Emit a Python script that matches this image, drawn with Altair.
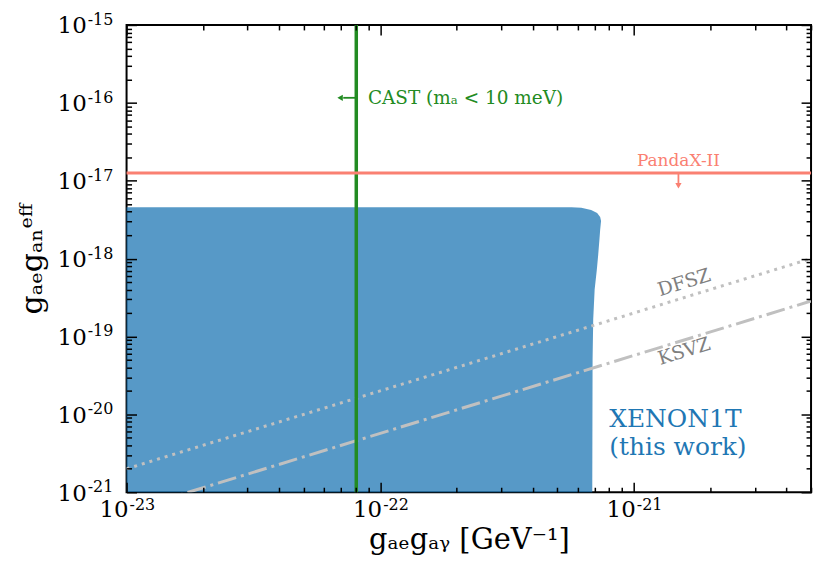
import altair as alt
import pandas as pd

FONT = "DejaVu Serif"

# ---- axis ranges ----
x_domain = [1e-23, 5e-21]
y_domain = [1e-21, 1e-15]
W, H = 687, 469

# ---- XENON1T excluded region (boundary) ----
xenon_gan = [4.57e-18, 4.48e-18, 4.22e-18, 3.86e-18, 3.43e-18, 3.05e-18, 2.34e-18,
             1.75e-18, 1.12e-18, 7.21e-19, 4.0e-19, 1.66e-19, 5.09e-20, 1e-21]
xenon_gay = [5.68e-22, 6.21e-22, 6.79e-22, 7.17e-22, 7.37e-22, 7.43e-22, 7.37e-22,
             7.32e-22, 7.24e-22, 7.15e-22, 7.01e-22, 6.92e-22, 6.88e-22, 6.86e-22]

# ---- limits ----
cast_gay = 8.05e-23
pandax_gan = 1.26e-17

# ---- QCD axion model lines ----
model_x = [1e-23, 5e-21]
dfsz_y = [2.0e-21, 1.0e-18]
ksvz_y = [5.7e-22, 2.85e-19]

# ---- tick positions and labels ----
x_exps = [-23, -22, -21]
y_exps = [-21, -20, -19, -18, -17, -16, -15]
x_major = [10.0 ** e for e in x_exps]
y_major = [10.0 ** e for e in y_exps]
x_minor = [k * 10.0 ** e for e in x_exps for k in range(2, 10) if k * 10.0 ** e <= 5e-21]
y_minor = [k * 10.0 ** e for e in y_exps[:-1] for k in range(2, 10)]

xs = alt.Scale(type="log", domain=x_domain, nice=False)
ys = alt.Scale(type="log", domain=y_domain, nice=False)

tick_common = dict(labels=False, domain=False, grid=False, title=None,
                   tickColor="black", tickWidth=1.5, zindex=1)


def ax_x(orient, values, size):
    return alt.Axis(orient=orient, offset=-H, values=values, tickSize=size, **tick_common)


def ax_y(orient, values, size):
    return alt.Axis(orient=orient, offset=-W, values=values, tickSize=size, **tick_common)


# region
df_x = pd.DataFrame({"gan": xenon_gan, "gay": xenon_gay, "gay0": [x_domain[0]] * len(xenon_gan)})
area = alt.Chart(df_x).mark_area(orient="horizontal", color="#1f77b4", opacity=0.75).encode(
    y=alt.Y("gan:Q", scale=ys, axis=alt.Axis(
        orient="left", labels=False, ticks=False, domain=False, grid=False,
        title="gₐₑgₐₙᵉᶠᶠ", titleFont=FONT, titleFontSize=30, titleFontWeight="normal",
        titleColor="black", titleX=-94, titleBaseline="middle", titleAngle=270)),
    x=alt.X("gay:Q", scale=xs, axis=alt.Axis(
        orient="bottom", labels=False, ticks=False, domain=False, grid=False,
        title="gₐₑgₐᵧ [GeV⁻¹]", titleFont=FONT, titleFontSize=29, titleFontWeight="normal",
        titleColor="black", titleY=47, titleBaseline="middle")),
    x2="gay0:Q",
)

dfsz = alt.Chart(pd.DataFrame({"x": model_x, "y": dfsz_y})).mark_line(
    color="#c0c0c0", strokeWidth=3, strokeDash=[3, 5], clip=True).encode(
    x=alt.X("x:Q", scale=xs, axis=ax_x("bottom", x_major, 10)),
    y=alt.Y("y:Q", scale=ys, axis=ax_y("left", y_major, 10)),
)
ksvz = alt.Chart(pd.DataFrame({"x": model_x, "y": ksvz_y})).mark_line(
    color="#c0c0c0", strokeWidth=3, strokeDash=[19, 5, 3, 5], clip=True).encode(
    x=alt.X("x:Q", scale=xs, axis=ax_x("bottom", x_minor, 5)),
    y=alt.Y("y:Q", scale=ys, axis=ax_y("left", y_minor, 5)),
)
cast = alt.Chart(pd.DataFrame({"x": [cast_gay, cast_gay], "y": y_domain})).mark_line(
    color="#228b22", strokeWidth=3.5).encode(
    x=alt.X("x:Q", scale=xs, axis=ax_x("top", x_major, 10)),
    y=alt.Y("y:Q", scale=ys, axis=ax_y("right", y_major, 10)),
)
pandax = alt.Chart(pd.DataFrame({"x": x_domain, "y": [pandax_gan, pandax_gan]})).mark_line(
    color="#fa8072", strokeWidth=3).encode(
    x=alt.X("x:Q", scale=xs, axis=ax_x("top", x_minor, 5)),
    y=alt.Y("y:Q", scale=ys, axis=ax_y("right", y_minor, 5)),
)

# arrows
cast_arrow_x = [cast_gay, 7.15e-23]
cast_arrow_y = 1.16e-16
pandax_arrow_x = 1.5e-21
pandax_arrow_y = [pandax_gan, 9.0e-18]

arrow_line_df = pd.DataFrame({
    "x": cast_arrow_x + [pandax_arrow_x, pandax_arrow_x],
    "y": [cast_arrow_y, cast_arrow_y] + pandax_arrow_y,
    "g": ["cast", "cast", "pandax", "pandax"],
})
arrow_lines = alt.Chart(arrow_line_df).mark_line(strokeWidth=1.8).encode(
    x=alt.X("x:Q", scale=xs, axis=None),
    y=alt.Y("y:Q", scale=ys, axis=None),
    detail="g:N",
    color=alt.Color("g:N", scale=alt.Scale(domain=["cast", "pandax"], range=["#228b22", "#fa8072"]), legend=None),
)
head_cast = alt.Chart(pd.DataFrame({"x": [6.95e-23], "y": [cast_arrow_y]})).mark_point(
    shape="triangle-left", filled=True, size=40, color="#228b22", opacity=1).encode(
    x=alt.X("x:Q", scale=xs, axis=None), y=alt.Y("y:Q", scale=ys, axis=None))
head_pandax = alt.Chart(pd.DataFrame({"x": [pandax_arrow_x], "y": [8.6e-18]})).mark_point(
    shape="triangle-down", filled=True, size=40, color="#fa8072", opacity=1).encode(
    x=alt.X("x:Q", scale=xs, axis=None), y=alt.Y("y:Q", scale=ys, axis=None))


def text_layer(df, **kw):
    return alt.Chart(df).mark_text(font=FONT, **kw).encode(
        x=alt.X("x:Q", scale=xs, axis=None),
        y=alt.Y("y:Q", scale=ys, axis=None),
        text="t:N",
    )


# tick labels: mantissa "10" plus raised exponent
ylab = pd.DataFrame({"x": [x_domain[0]] * len(y_exps), "y": y_major,
                     "t": ["10"] * len(y_exps), "e": [str(e) for e in y_exps]})
xlab = pd.DataFrame({"x": x_major, "y": [y_domain[0]] * len(x_exps),
                     "t": ["10"] * len(x_exps), "e": [str(e) for e in x_exps]})

ylab_base = text_layer(ylab, align="right", baseline="alphabetic", fontSize=23, dx=-40, dy=8.5, color="black")
ylab_exp = alt.Chart(ylab).mark_text(font=FONT, align="left", baseline="alphabetic", fontSize=16,
                                     dx=-39, dy=0, color="black").encode(
    x=alt.X("x:Q", scale=xs, axis=None), y=alt.Y("y:Q", scale=ys, axis=None), text="e:N")
xlab_base = text_layer(xlab, align="right", baseline="alphabetic", fontSize=23, dx=2, dy=25, color="black")
xlab_exp = alt.Chart(xlab).mark_text(font=FONT, align="left", baseline="alphabetic", fontSize=16,
                                     dx=3, dy=17.5, color="black").encode(
    x=alt.X("x:Q", scale=xs, axis=None), y=alt.Y("y:Q", scale=ys, axis=None), text="e:N")

# annotations
cast_txt = text_layer(pd.DataFrame({"x": [8.95e-23], "y": [1.17e-16], "t": ["CAST (mₐ < 10 meV)"]}),
                      align="left", baseline="middle", fontSize=18.5, color="#228b22")
pandax_txt = text_layer(pd.DataFrame({"x": [1.5e-21], "y": [1.79e-17], "t": ["PandaX-II"]}),
                        align="center", baseline="middle", fontSize=17, color="#fa8072")
model_txt = text_layer(pd.DataFrame({"x": [1.58e-21, 1.58e-21], "y": [4.92e-19, 6.45e-20],
                                     "t": ["DFSZ", "KSVZ"]}),
                       align="center", baseline="middle", fontSize=19, color="#808080", angle=343)
xenon_txt = text_layer(pd.DataFrame({"x": [8.0e-22, 8.0e-22], "y": [8.7e-21, 3.82e-21],
                                     "t": ["XENON1T", "(this work)"]}),
                       align="left", baseline="middle", fontSize=25, color="#1f77b4")

chart = alt.layer(
    area, dfsz, ksvz, cast, pandax, arrow_lines, head_cast, head_pandax,
    ylab_base, ylab_exp, xlab_base, xlab_exp,
    cast_txt, pandax_txt, model_txt, xenon_txt,
).resolve_axis(x="independent", y="independent").properties(
    width=W, height=H, padding={"left": 10, "top": 3, "right": 5, "bottom": 5},
    background="white",
).configure_view(stroke="black", strokeWidth=2)

chart.save("out.html", embed_options={"renderer": "svg", "actions": False})
